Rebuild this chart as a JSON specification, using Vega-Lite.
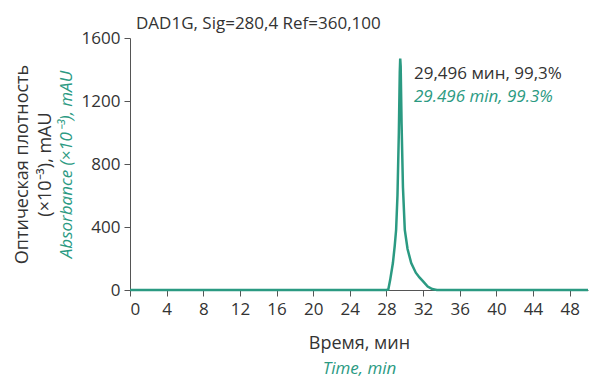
{
  "$schema": "https://vega.github.io/schema/vega-lite/v6.json",
  "width": 458,
  "height": 252,
  "autosize": {"type": "none"},
  "padding": {"left": 130, "top": 38, "right": 12, "bottom": 94},
  "background": "white",
  "config": {
    "font": "Open Sans",
    "view": {"stroke": null},
    "axis": {"grid": false, "domainColor": "#555", "tickColor": "#555", "labelColor": "#333", "titleFontWeight": "normal", "labelFontSize": 17, "titleFontSize": 18}
  },
  "title": {"text": "DAD1G, Sig=280,4 Ref=360,100", "anchor": "start", "frame": "group", "fontSize": 17, "fontWeight": "normal", "color": "#333", "dx": 6, "offset": -4},
  "datasets": {
    "trace": [
      {"t": 0, "v": 0}, {"t": 28.0, "v": 0}, {"t": 28.2, "v": 3}, {"t": 28.4, "v": 63},
      {"t": 28.7, "v": 171}, {"t": 28.9, "v": 280}, {"t": 29.05, "v": 381}, {"t": 29.2, "v": 600},
      {"t": 29.35, "v": 1000}, {"t": 29.45, "v": 1380}, {"t": 29.5, "v": 1470}, {"t": 29.55, "v": 1420},
      {"t": 29.65, "v": 1050}, {"t": 29.8, "v": 650}, {"t": 30.0, "v": 381}, {"t": 30.3, "v": 260},
      {"t": 30.7, "v": 171}, {"t": 31.2, "v": 110}, {"t": 31.6, "v": 80}, {"t": 32.0, "v": 55},
      {"t": 32.5, "v": 22}, {"t": 33.0, "v": 6}, {"t": 33.5, "v": 0}, {"t": 50, "v": 0}
    ]
  },
  "layer": [
    {
      "data": {"name": "trace"},
      "mark": {"type": "line", "color": "#2b9a82", "strokeWidth": 2.5},
      "encoding": {
        "x": {"field": "t", "type": "quantitative", "scale": {"domain": [0, 50], "nice": false},
          "axis": {"orient": "bottom", "values": [0, 4, 8, 12, 16, 20, 24, 28, 32, 36, 40, 44, 48], "format": "d", "tickSize": 6, "labelPadding": 5, "title": "Время, мин", "titleColor": "#333", "titleY": 53, "titleBaseline": "middle"}},
        "y": {"field": "v", "type": "quantitative", "scale": {"domain": [0, 1600], "nice": false},
          "axis": {"orient": "left", "values": [0, 400, 800, 1200, 1600], "format": "d", "tickSize": 6, "labelPadding": 4, "title": "Absorbance (×10⁻³), mAU", "titleColor": "#2b9a82", "titleFontStyle": "italic", "titleFontSize": 17, "titleX": -64, "titleBaseline": "middle"}}
      }
    },
    {
      "data": {"name": "trace"},
      "mark": {"type": "line", "strokeOpacity": 0},
      "encoding": {
        "x": {"field": "t", "type": "quantitative", "scale": {"domain": [0, 50], "nice": false},
          "axis": {"orient": "bottom", "labels": false, "ticks": false, "domain": false, "title": "Time, min", "titleColor": "#2b9a82", "titleFontStyle": "italic", "titleFontSize": 17, "titleY": 78, "titleBaseline": "middle"}},
        "y": {"field": "v", "type": "quantitative", "scale": {"domain": [0, 1600], "nice": false},
          "axis": {"orient": "left", "labels": false, "ticks": false, "domain": false, "title": "(×10⁻³), mAU", "titleColor": "#333", "titleX": -85, "titleBaseline": "middle"}}
      }
    },
    {
      "data": {"name": "trace"},
      "mark": {"type": "line", "strokeOpacity": 0},
      "encoding": {
        "x": {"field": "t", "type": "quantitative", "scale": {"domain": [0, 50], "nice": false}, "axis": null},
        "y": {"field": "v", "type": "quantitative", "scale": {"domain": [0, 1600], "nice": false},
          "axis": {"orient": "left", "labels": false, "ticks": false, "domain": false, "title": "Оптическая плотность", "titleColor": "#333", "titleX": -108, "titleBaseline": "middle"}}
      }
    },
    {
      "data": {"values": [{"t": 31, "v": 1370, "label": "29,496 мин, 99,3%"}]},
      "mark": {"type": "text", "align": "left", "baseline": "middle", "fontSize": 17, "color": "#333"},
      "encoding": {
        "x": {"field": "t", "type": "quantitative", "axis": null},
        "y": {"field": "v", "type": "quantitative", "axis": null},
        "text": {"field": "label"}
      }
    },
    {
      "data": {"values": [{"t": 31, "v": 1225, "label": "29.496 min, 99.3%"}]},
      "mark": {"type": "text", "align": "left", "baseline": "middle", "fontSize": 17, "fontStyle": "italic", "color": "#2b9a82"},
      "encoding": {
        "x": {"field": "t", "type": "quantitative", "axis": null},
        "y": {"field": "v", "type": "quantitative", "axis": null},
        "text": {"field": "label"}
      }
    }
  ],
  "resolve": {"axis": {"x": "independent", "y": "independent"}}
}
